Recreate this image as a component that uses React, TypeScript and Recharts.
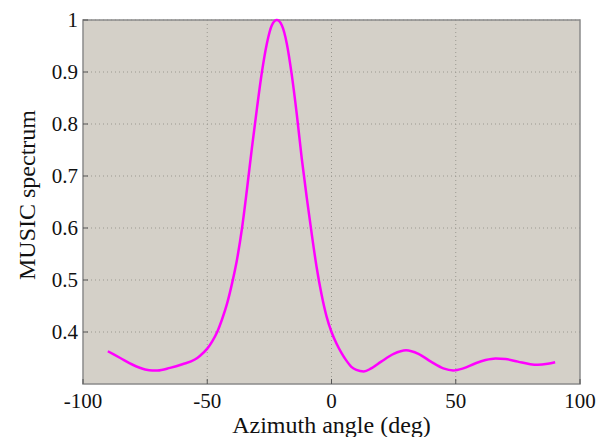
import React from "react";
import { LineChart, Line, XAxis, YAxis, CartesianGrid, ReferenceArea } from "recharts";

const angles = [-90, -85, -80, -75, -72, -70, -65, -60, -55, -53, -50, -48, -46, -44, -42, -40, -38, -36, -34, -32, -30, -28, -26, -24, -22, -20, -18, -16, -14, -12, -10, -8, -6, -4, -2, 0, 2, 4, 6, 8, 10, 13, 16, 20, 25, 30, 35, 40, 45, 49, 53, 58, 62, 66, 70, 75, 80, 83, 87, 90];
const spectrum = [0.363, 0.35, 0.337, 0.328, 0.326, 0.326, 0.331, 0.338, 0.347, 0.354, 0.368, 0.382, 0.4, 0.425, 0.455, 0.494, 0.54, 0.6, 0.675, 0.755, 0.83, 0.9, 0.955, 0.99, 1.0, 0.99, 0.955, 0.895, 0.82, 0.735, 0.66, 0.59, 0.525, 0.472, 0.43, 0.4, 0.378, 0.36, 0.345, 0.333, 0.327, 0.324, 0.33, 0.343, 0.358, 0.365, 0.358, 0.343, 0.33, 0.326, 0.33, 0.34, 0.346, 0.349, 0.348, 0.343, 0.338, 0.337, 0.339, 0.342];
const xTicks = [-100, -50, 0, 50, 100];
const yTicks = [0.4, 0.5, 0.6, 0.7, 0.8, 0.9, 1];

const data = angles.map((a, i) => ({ angle: a, value: spectrum[i] }));

const font = "'Liberation Serif', 'Times New Roman', serif";

const XTick = (props: any) => {
  const { x, y, payload } = props;
  return (
    <text x={x} y={y} dy="0.71em" textAnchor="middle" fill="#111" fontSize={21} fontFamily={font}>
      {payload.value}
    </text>
  );
};

const YTick = (props: any) => {
  const { x, y, payload } = props;
  return (
    <text x={x} y={y} dy="0.355em" textAnchor="end" fill="#111" fontSize={21} fontFamily={font}>
      {payload.value}
    </text>
  );
};

export default function App() {
  return (
    <div style={{ position: "absolute", left: 0, top: 0, background: "#fff", fontFamily: font }}>
      <LineChart width={596} height={437} data={data} margin={{ top: 20, right: 16, bottom: 23, left: 23 }} style={{ fontFamily: font }}>
        <CartesianGrid fill="#d4d0c8" stroke="#9a9890" strokeDasharray="1 3" horizontalValues={yTicks} verticalValues={[-50, 0, 50]} />
        <ReferenceArea x1={-100} x2={100} y1={0.3} y2={1} fill="none" stroke="#8a8a8a" strokeWidth={1.5} ifOverflow="visible" />
        <XAxis
          dataKey="angle"
          type="number"
          domain={[-100, 100]}
          ticks={xTicks}
          height={30}
          axisLine={false}
          tickLine={{ stroke: "#555" }}
          tickSize={-5}
          tickMargin={14}
          tick={<XTick />}
          label={{ value: "Azimuth angle (deg)", position: "insideBottom", offset: -19, fill: "#111", fontSize: 24, fontFamily: font }}
        />
        <YAxis
          type="number"
          domain={[0.3, 1]}
          ticks={yTicks}
          width={60}
          axisLine={false}
          tickLine={{ stroke: "#555" }}
          tickSize={-5}
          tickMargin={10}
          tick={<YTick />}
          label={{ value: "MUSIC spectrum", angle: -90, position: "insideLeft", offset: 3, dy: 78, fill: "#111", fontSize: 24, fontFamily: font }}
        />
        <Line type="monotone" dataKey="value" stroke="#ff00ff" strokeWidth={2.5} dot={false} isAnimationActive={false} />
      </LineChart>
    </div>
  );
}
